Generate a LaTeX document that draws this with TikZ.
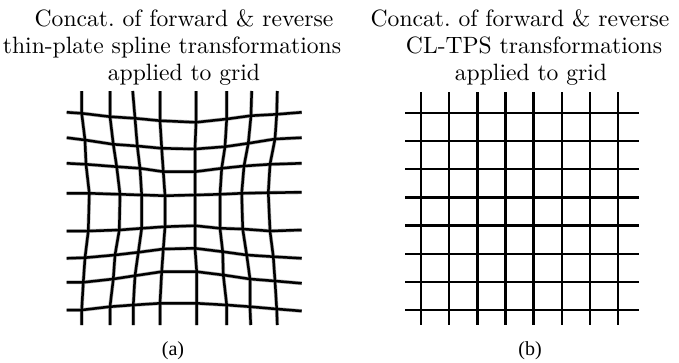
\documentclass[tikz,border=0pt]{standalone}
\usepackage{fontspec}
\newfontfamily\capfont{Liberation Serif}
\begin{document}
\begin{tikzpicture}[x=1pt,y=-1pt,
  ttl/.style={anchor=base,inner sep=0pt,font=\fontsize{10}{12}\selectfont,scale=2.36,transform shape},
  sublbl/.style={anchor=base,inner sep=0pt,font=\capfont\fontsize{20}{24}\selectfont},
  gridline/.style={line width=2.5pt,line cap=butt,line join=miter},
  fuzz/.style={line width=3.8pt,draw=black!30,line cap=butt,line join=miter},
  cleanline/.style={line width=2.4pt,line cap=butt}]
\useasboundingbox (0,0) rectangle (679,362);
% titles
\node[ttl] (ta1) at (184,26) {Concat.\ of forward \& reverse};
\node[ttl] (ta2) at (172,53) {thin-plate spline transformations};
\node[ttl] (ta3) at (184,80) {applied to grid};
\node[ttl] (tb1) at (520,26) {Concat.\ of forward \& reverse};
\node[ttl] (tb2) at (534,53) {CL-TPS transformations};
\node[ttl] (tb3) at (531,80) {applied to grid};
% captions
\node[sublbl] (ca) at (173,355) {(a)};
\node[sublbl] (cb) at (530,355) {(b)};
% ---------- left warped grid ----------
\foreach \x/\y [count=\c] in {81.7/113.3,110/116.7,135/118.3,160/120.7,196/122.3,226.7/119,251/115.7,276.7/114.3}
  \coordinate (p\c-1) at (\x,\y);
\foreach \x/\y [count=\c] in {85/140,113.3/144.3,137.3/146,161.7/148.3,195/149,225/146.7,248.3/143.3,275/139}
  \coordinate (p\c-2) at (\x,\y);
\foreach \x/\y [count=\c] in {86/164.3,116.7/166.7,140/168.3,163.3/171.7,195/171.7,221.7/168.3,244/166,270/164.3}
  \coordinate (p\c-3) at (\x,\y);
\foreach \x/\y [count=\c] in {89.3/193.3,120/194.3,141.7/195,165/195.7,195/195,220/194.3,241.7/193.3,268.3/192.7}
  \coordinate (p\c-4) at (\x,\y);
\foreach \x/\y [count=\c] in {88.3/231,119.3/230,141.7/228.3,165/226.7,195/225.7,220/228.3,242.7/229,270/231}
  \coordinate (p\c-5) at (\x,\y);
\foreach \x/\y [count=\c] in {85/257.7,115/255,138.3/252.3,163.3/249,195/248.3,222.7/251.7,246.7/255,273.3/256.7}
  \coordinate (p\c-6) at (\x,\y);
\foreach \x/\y [count=\c] in {83.3/282.3,113.3/279,135/275.7,161.7/271.7,196.7/271.7,223.3/275,250/279,275/281}
  \coordinate (p\c-7) at (\x,\y);
\foreach \x/\y [count=\c] in {81.7/310,110/306.7,133.3/305,160/303.3,196.7/303.3,226.7/305,250/306.7,276.7/309}
  \coordinate (p\c-8) at (\x,\y);
% row ends
\foreach \yl/\yr [count=\r] in {112.3/112.3,137.7/137.7,163.3/163.3,193.3/192.3,231/230,258.3/258.3,282.3/283.3,310/311}{
  \coordinate (l\r) at (66.7,\yl);
  \coordinate (r\r) at (301.7,\yr);
}
% column ends
\foreach \xt/\xb [count=\c] in {81.7/81.7,110/110,132.7/133.3,160/160,196/196.7,226.7/226.7,251.7/250.7,277.3/277.3}{
  \coordinate (t\c) at (\xt,91);
  \coordinate (b\c) at (\xb,325);
}
\foreach \r in {1,...,8}
  \draw[fuzz] (l\r) \foreach \c in {1,...,8}{ -- (p\c-\r)} -- (r\r);
\foreach \c in {1,...,8}
  \draw[fuzz] (t\c) \foreach \r in {1,...,8}{ -- (p\c-\r)} -- (b\c);
\foreach \r in {1,...,8}
  \draw[gridline] (l\r) \foreach \c in {1,...,8}{ -- (p\c-\r)} -- (r\r);
\foreach \c in {1,...,8}
  \draw[gridline] (t\c) \foreach \r in {1,...,8}{ -- (p\c-\r)} -- (b\c);
% ---------- right regular grid ----------
\foreach \i in {0,...,7}{
  \coordinate (vt\i) at ({421+28.15*\i},92);
  \coordinate (vb\i) at ({421+28.15*\i},325);
  \coordinate (hl\i) at (405,{112.7+28.2*\i});
  \coordinate (hr\i) at (639,{112.7+28.2*\i});
  \draw[cleanline] (vt\i) -- (vb\i);
  \draw[cleanline] (hl\i) -- (hr\i);
}
\end{tikzpicture}
\end{document}
